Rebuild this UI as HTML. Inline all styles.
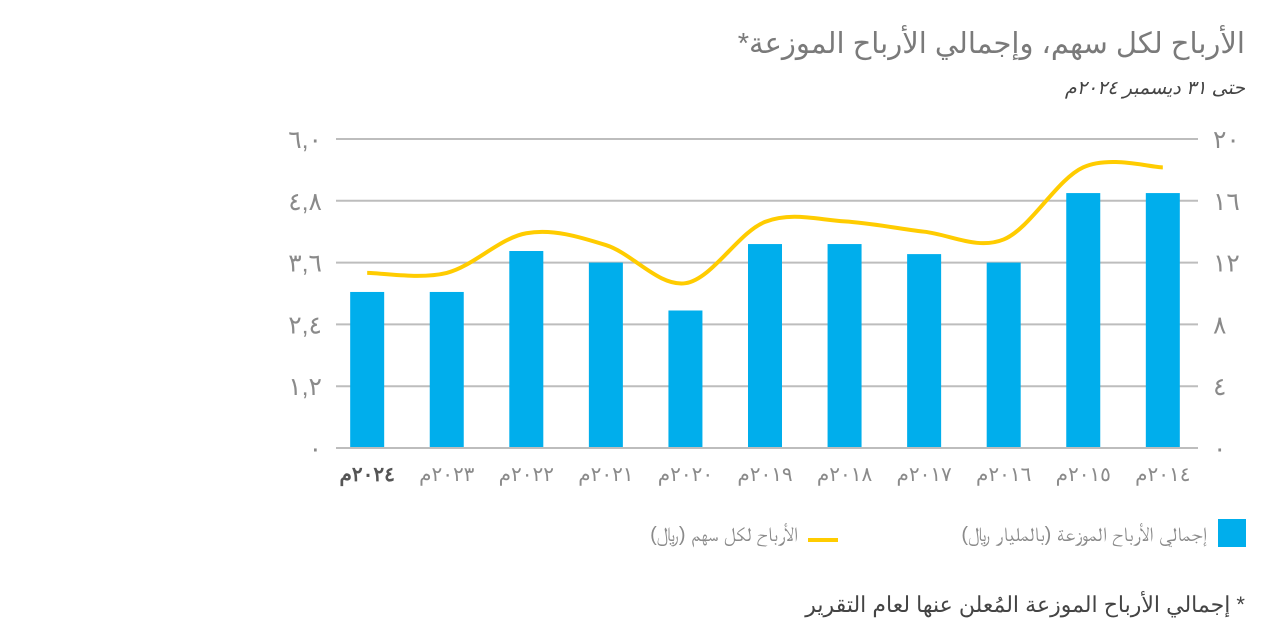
<!DOCTYPE html>
<html><head><meta charset="utf-8">
<style>
body{margin:0;width:1262px;height:632px;background:#fff;overflow:hidden;font-family:"Liberation Sans","Noto Sans CJK SC",sans-serif;}
.t{position:absolute;direction:rtl;white-space:nowrap;}
</style></head>
<body>
<div class="t" style="right:17px;top:26px;font-size:29px;color:#7a7a7a;">الأرباح لكل سهم، وإجمالي الأرباح الموزعة*</div>
<div class="t" style="right:17px;top:77px;font-size:19px;color:#444;font-style:italic;">حتى ٣١ ديسمبر ٢٠٢٤م</div>
<svg id="chart" width="1262" height="632" style="position:absolute;left:0;top:0;pointer-events:none" xmlns="http://www.w3.org/2000/svg"></svg>
<div style="position:absolute;left:1218px;top:519px;width:28px;height:28px;background:#00AEEC"></div>
<div class="t" style="right:55px;top:524px;font-size:20px;color:#8a8a8a;">إجمالي الأرباح الموزعة (بالمليار ﷼)</div>
<div style="position:absolute;left:808px;top:538px;width:30px;height:4px;background:#FFCC00"></div>
<div class="t" style="right:464px;top:524px;font-size:20px;color:#8a8a8a;">الأرباح لكل سهم (﷼)</div>
<div class="t" style="right:17px;top:592px;font-size:22px;color:#444;">* إجمالي الأرباح الموزعة المُعلن عنها لعام التقرير</div>
<script>
const categories=["٢٠٢٤م","٢٠٢٣م","٢٠٢٢م","٢٠٢١م","٢٠٢٠م","٢٠١٩م","٢٠١٨م","٢٠١٧م","٢٠١٦م","٢٠١٥م","٢٠١٤م"];
const dividends=[10.1,10.1,12.75,12,8.9,13.2,13.2,12.55,12,16.5,16.5];
const eps=[3.4,3.4,4.17,3.94,3.2,4.39,4.4,4.2,4.05,5.45,5.45];
const leftTicks=[0,1.2,2.4,3.6,4.8,6];
const leftTickLabels=["٠","١,٢","٢,٤","٣,٦","٤,٨","٦,٠"];
const rightTicks=[0,4,8,12,16,20];
const rightTickLabels=["٠","٤","٨","١٢","١٦","٢٠"];
const svg=document.getElementById('chart');
const NS="http://www.w3.org/2000/svg";
const X0=336,X1=1198,Y0=448,Y1=139;
const step=(X1-X0)/categories.length;
const xC=i=>X0+step*(i+0.5)-8+i*1.2;
const yL=v=>Y0-(v/6)*(Y0-Y1);
const yR=v=>Y0-(v/20)*(Y0-Y1);
function mk(tag,attrs){const e=document.createElementNS(NS,tag);for(const k in attrs)e.setAttribute(k,attrs[k]);svg.appendChild(e);return e;}
leftTicks.forEach((v,i)=>{
  const g=mk('line',{x1:X0,x2:X1,y1:yL(v),y2:yL(v),stroke:'#bdbdbd','stroke-width':2});
  
  
  const t=mk('text',{x:322,y:yL(v)+9,'text-anchor':'end','font-size':25,fill:'#8a8a8a','font-family':'Liberation Sans, sans-serif'});
  t.textContent=leftTickLabels[i];
  
  
});
rightTicks.forEach((v,i)=>{
  const t=mk('text',{x:1213,y:yR(v)+9,'text-anchor':'start','font-size':25,fill:'#8a8a8a','font-family':'Liberation Sans, sans-serif'});
  t.textContent=rightTickLabels[i];
  
  
});
dividends.forEach((v,i)=>{
  const b=mk('rect',{x:xC(i)-17,y:yR(v),width:34,height:Y0-yR(v),fill:'#00AEEC'});
  
  
  const t=mk('text',{x:xC(i),y:481,'text-anchor':'middle','font-size':20,fill:i===0?'#555':'#8a8a8a','font-weight':i===0?'bold':'normal',direction:'rtl','font-family':'Liberation Sans, sans-serif'});
  t.textContent=categories[i];
  
  
});
mk('line',{x1:X0,x2:X1,y1:Y0,y2:Y0,stroke:'#bdbdbd','stroke-width':2});
const pts=eps.map((v,i)=>[xC(i),yL(v)]);
let d='M'+pts[0][0]+','+pts[0][1];
for(let i=0;i<pts.length-1;i++){
  const p0=pts[Math.max(0,i-1)],p1=pts[i],p2=pts[i+1],p3=pts[Math.min(pts.length-1,i+2)];
  const c1=[p1[0]+(p2[0]-p0[0])/6,p1[1]+(p2[1]-p0[1])/6];
  const c2=[p2[0]-(p3[0]-p1[0])/6,p2[1]-(p3[1]-p1[1])/6];
  d+=` C${c1[0]},${c1[1]} ${c2[0]},${c2[1]} ${p2[0]},${p2[1]}`;
}
const line=mk('path',{d:d,fill:'none',stroke:'#FFCC00','stroke-width':4});


</script>
</body></html>
